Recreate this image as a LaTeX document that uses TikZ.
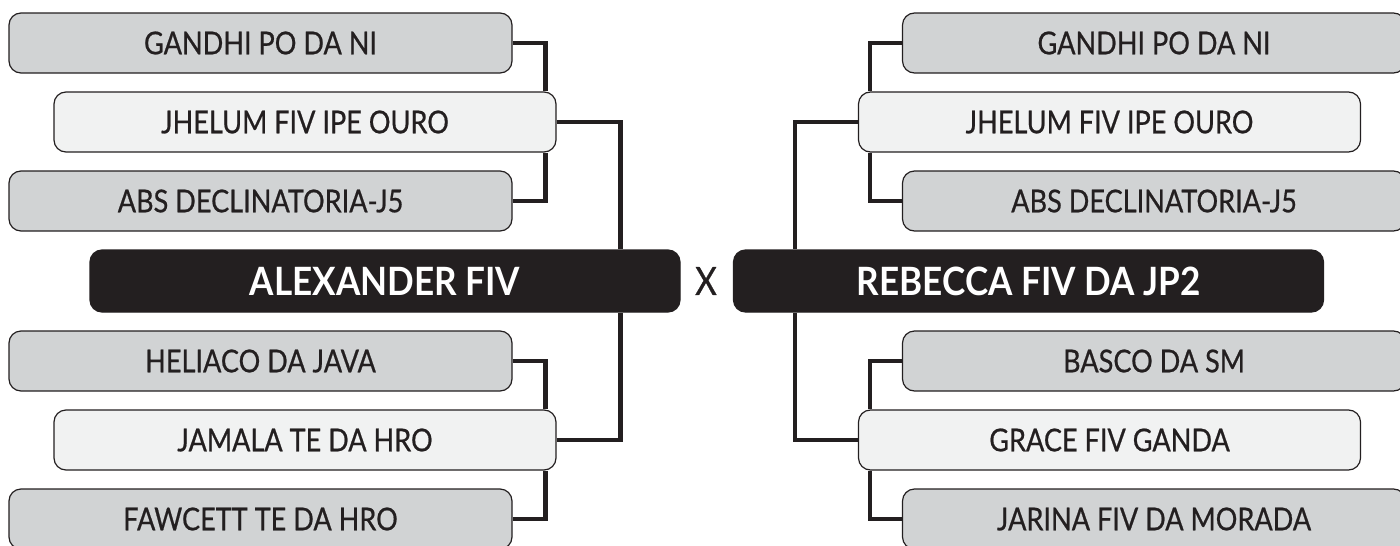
\documentclass[tikz,border=0pt]{standalone}
\usepackage{fontspec}
\setmainfont{Lato}[UprightFeatures={FakeBold=0.6, FakeStretch=0.86}, BoldFeatures={FakeStretch=0.9}]
\definecolor{boxgray}{HTML}{D1D3D4}
\definecolor{boxlight}{HTML}{F1F2F2}
\definecolor{ink}{HTML}{231F20}
\tikzset{
  base/.style={draw=ink, line width=1.2pt, rounded corners=12pt, inner sep=0pt,
    minimum height=60pt, text=ink, font=\fontsize{31.5}{38}\selectfont},
  graybox/.style={base, fill=boxgray, minimum width=503pt},
  lightbox/.style={base, fill=boxlight, minimum width=502pt},
  mainbox/.style={base, fill=ink, text=white, minimum width=590pt, minimum height=62pt,
    font=\fontsize{39}{46}\selectfont\bfseries},
  conn/.style={draw=ink, line width=4.5pt}
}
\begin{document}
\begin{tikzpicture}[x=1pt,y=-1pt]
\useasboundingbox (0,0) rectangle (1400,546);
\clip (0,0) rectangle (1400,546);
% left side
\node[graybox]  (l1) at (260.5,43)  {GANDHI PO DA NI};
\node[lightbox] (l2) at (305,122)   {JHELUM FIV IPE OURO};
\node[graybox]  (l3) at (260.5,201) {ABS DECLINATORIA-J5};
\node[mainbox]  (lA) at (385,281)   {ALEXANDER FIV};
\node[graybox]  (l4) at (260.5,361) {HELIACO DA JAVA};
\node[lightbox] (l5) at (305,440)   {JAMALA TE DA HRO};
\node[graybox]  (l6) at (260.5,519) {FAWCETT TE DA HRO};
% right side
\node[graybox]  (r1) at (1154,43)   {GANDHI PO DA NI};
\node[lightbox] (r2) at (1109.5,122) {JHELUM FIV IPE OURO};
\node[graybox]  (r3) at (1154,201)  {ABS DECLINATORIA-J5};
\node[mainbox]  (rA) at (1028.5,281) {REBECCA FIV DA JP2};
\node[graybox]  (r4) at (1154,361)  {BASCO DA SM};
\node[lightbox] (r5) at (1109.5,440) {GRACE FIV GANDA};
\node[graybox]  (r6) at (1154,519)  {JARINA FIV DA MORADA};
% versus
\node[text=ink, font=\fontsize{39}{46}\selectfont, inner sep=0pt] (vs) at (706,281) {X};
% connectors left
\draw[conn] (l1.east) -| ([xshift=-11pt]l2.north east);
\draw[conn] ([xshift=-11pt]l2.south east) |- (l3.east);
\draw[conn] (l2.east) -| ([xshift=-60pt]lA.north east);
\draw[conn] (l4.east) -| ([xshift=-11pt]l5.north east);
\draw[conn] ([xshift=-11pt]l5.south east) |- (l6.east);
\draw[conn] (l5.east) -| ([xshift=-60pt]lA.south east);
% connectors right
\draw[conn] (r1.west) -| ([xshift=12pt]r2.north west);
\draw[conn] ([xshift=12pt]r2.south west) |- (r3.west);
\draw[conn] (r2.west) -| ([xshift=62pt]rA.north west);
\draw[conn] (r4.west) -| ([xshift=12pt]r5.north west);
\draw[conn] ([xshift=12pt]r5.south west) |- (r6.west);
\draw[conn] (r5.west) -| ([xshift=62pt]rA.south west);
\end{tikzpicture}
\end{document}
